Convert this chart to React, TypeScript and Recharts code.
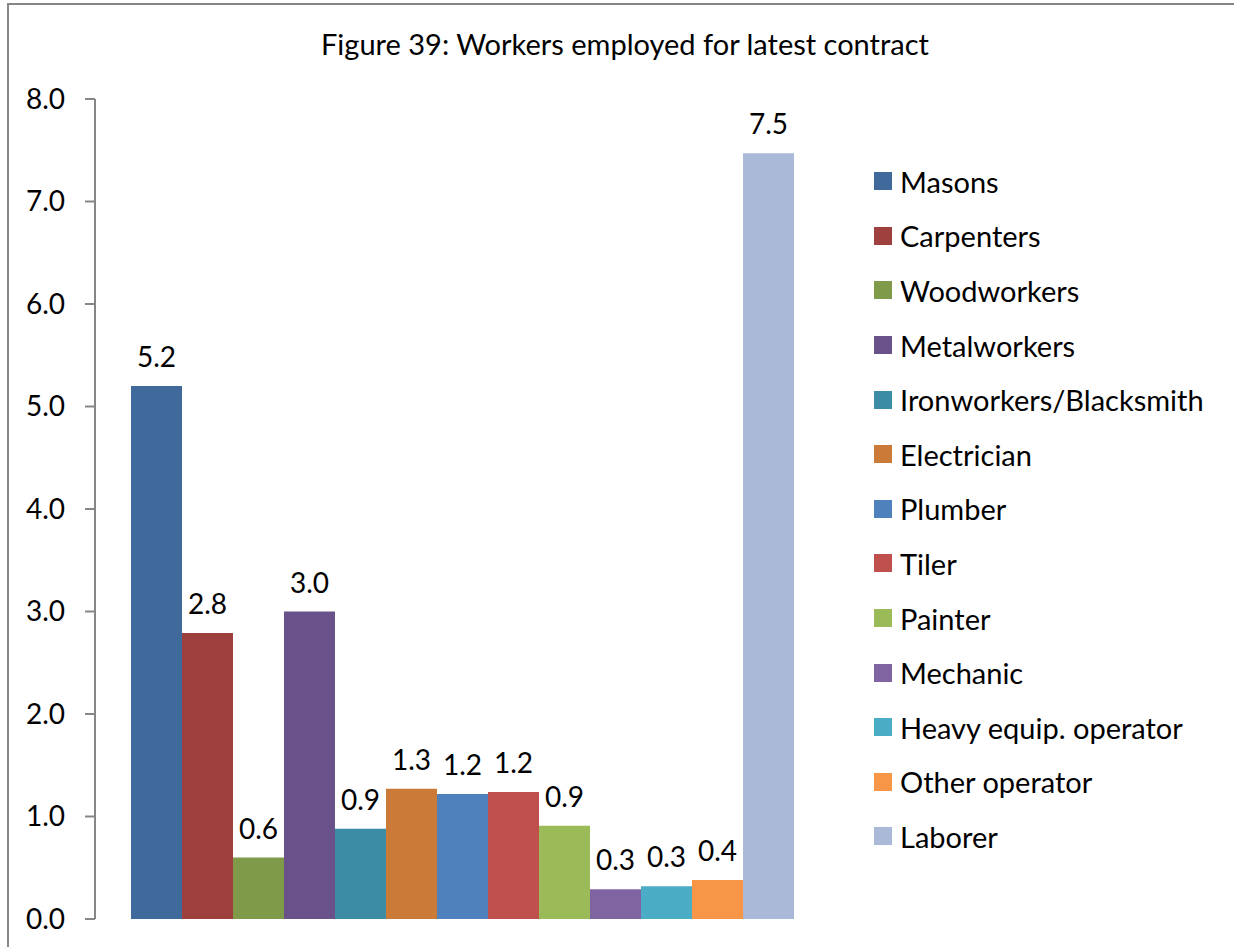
import { BarChart, Bar, XAxis, YAxis, LabelList } from 'recharts'

const seriesNames = [
  'Masons',
  'Carpenters',
  'Woodworkers',
  'Metalworkers',
  'Ironworkers/Blacksmith',
  'Electrician',
  'Plumber',
  'Tiler',
  'Painter',
  'Mechanic',
  'Heavy equip. operator',
  'Other operator',
  'Laborer',
]

const seriesValues = [5.2, 2.79, 0.6, 3.0, 0.88, 1.27, 1.22, 1.24, 0.91, 0.29, 0.32, 0.38, 7.47]

const seriesColors = [
  '#406a9c',
  '#9e403e',
  '#7f9a48',
  '#69518a',
  '#3b8ca4',
  '#cc7a38',
  '#4f81bd',
  '#c0504d',
  '#9bbb59',
  '#8064a2',
  '#4bacc6',
  '#f79646',
  '#aab9d7',
]

const yTicks = [0, 1, 2, 3, 4, 5, 6, 7, 8]

const chartData = [
  seriesNames.reduce<Record<string, number | string>>(
    (row, name, i) => {
      row[name] = seriesValues[i]
      return row
    },
    { name: '' },
  ),
]

const font = 'Lato, "Open Sans", sans-serif'

function LegendList() {
  return (
    <div style={{ position: 'absolute', left: 874, top: 154, fontFamily: font, fontSize: 29, color: '#000' }}>
      {seriesNames.map((name, i) => (
        <div key={name} style={{ display: 'flex', alignItems: 'center', height: 54.6, whiteSpace: 'nowrap' }}>
          <span
            style={{ width: 18, height: 18, background: seriesColors[i], display: 'inline-block', marginRight: 8 }}
          />
          <span>{name}</span>
        </div>
      ))}
    </div>
  )
}

export default function App() {
  return (
    <div style={{ position: 'absolute', left: 0, top: 0, width: 1234, height: 947, background: '#fff', overflow: 'hidden' }}>
      <div
        style={{
          position: 'absolute',
          left: 7,
          top: 3,
          width: 1300,
          height: 1000,
          border: '2px solid #868686',
          boxSizing: 'border-box',
        }}
      />
      <div
        style={{
          position: 'absolute',
          left: 0,
          width: 1250,
          top: 26,
          textAlign: 'center',
          fontFamily: font,
          fontSize: 29,
          color: '#000',
        }}
      >
        Figure 39: Workers employed for latest contract
      </div>
      <div style={{ position: 'absolute', left: 0, top: 0 }}>
        <BarChart
          width={1234}
          height={947}
          data={chartData}
          margin={{ top: 99, right: 404, bottom: 28, left: 0 }}
          barSize={51}
          barGap={0}
        >
          <XAxis dataKey="name" hide />
          <YAxis
            width={95}
            domain={[0, 8]}
            ticks={yTicks}
            interval={0}
            tickFormatter={(v: number) => v.toFixed(1)}
            tick={{ fill: '#000', fontSize: 28, fontFamily: font }}
            axisLine={{ stroke: '#868686', strokeWidth: 2 }}
            tickLine={{ stroke: '#868686', strokeWidth: 2 }}
            tickSize={10}
            tickMargin={20}
          />
          {seriesNames.map((name, i) => (
            <Bar key={name} dataKey={name} fill={seriesColors[i]} isAnimationActive={false}>
              <LabelList
                dataKey={name}
                position="top"
                offset={19}
                formatter={(v: number) => v.toFixed(1)}
                style={{ fill: '#000', fontSize: 28, fontFamily: font }}
              />
            </Bar>
          ))}
        </BarChart>
      </div>
      <LegendList />
    </div>
  )
}
